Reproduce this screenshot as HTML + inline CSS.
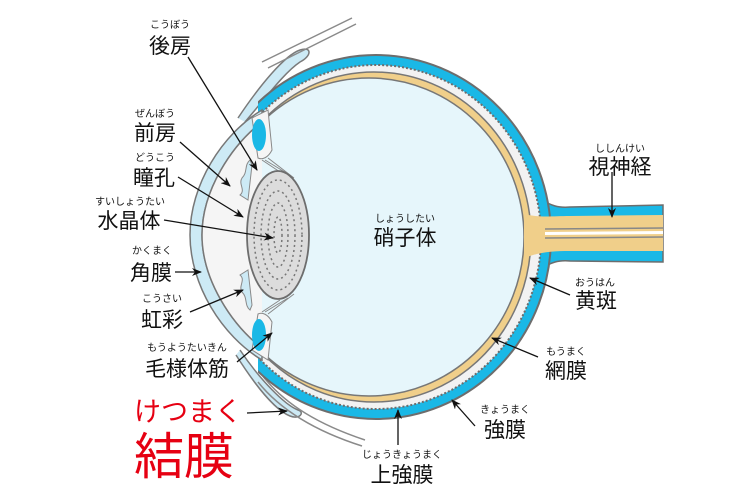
<!DOCTYPE html>
<html><head><meta charset="utf-8"><style>
html,body{margin:0;padding:0;background:#fff;}
svg{display:block;}
text{font-family:"Liberation Sans","Noto Sans CJK JP",sans-serif;fill:#111;}
.r{font-size:10px;}
.m{font-size:21px;}
</style></head><body>
<svg width="750" height="500" viewBox="0 0 750 500" xmlns="http://www.w3.org/2000/svg">
<defs>
<marker id="a" markerWidth="10" markerHeight="8" refX="9" refY="4" orient="auto" markerUnits="userSpaceOnUse">
<path d="M0,0 L10,4 L0,8 L3,4 Z" fill="#111"/></marker>
<clipPath id="cg"><rect x="258" y="0" width="500" height="500"/></clipPath>
</defs>

<!-- optic nerve -->
<path d="M538,198 C552,206 558,208 570,207 L663,205 L663,262 L570,261 C558,260 552,262 538,270 Z" fill="#1ab8e6" stroke="#6d6d6d" stroke-width="1.5"/>

<!-- eyelids -->
<path d="M238,118 C260,85 285,55 300,50 C312,46 312,56 300,62 C285,72 268,95 245,122" fill="#cdeaf5" stroke="#7a7a7a" stroke-width="1.5"/>
<path d="M262,62 L352,18 M268,68 L356,24" stroke="#8a8a8a" stroke-width="1.5"/>
<path d="M240,350 C260,380 285,405 298,410 C305,412 300,420 290,416 C275,410 255,385 236,355" fill="#cdeaf5" stroke="#7a7a7a" stroke-width="1.5"/>
<path d="M262,375 C285,405 320,425 365,440 M258,382 C282,412 318,432 362,446" stroke="#8a8a8a" stroke-width="1.5" fill="none"/>

<!-- globe -->
<g clip-path="url(#cg)">
<ellipse cx="376" cy="237" rx="175" ry="182" fill="#1ab8e6" stroke="#6d6d6d" stroke-width="2"/>
<ellipse cx="376" cy="237" rx="165" ry="172" fill="#f2f2f2" stroke="#6d6d6d" stroke-width="2" stroke-dasharray="2 2"/>
<ellipse cx="374" cy="237" rx="157" ry="165" fill="#f0cf8a" stroke="#777" stroke-width="1.5"/>
<ellipse cx="369" cy="237" rx="155" ry="159" fill="#e6f6fb" stroke="#777" stroke-width="1.5"/>
</g>
<path d="M524,214 C540,218 552,216 570,216 L663,215 L663,251 L570,251 C552,251 540,252 524,258 Z" fill="#f0cf8a"/>
<path d="M545,229 L663,228 M545,238 L663,237" stroke="#888" stroke-width="1.5"/>
<path d="M545,233.5 L663,232.5" stroke="#fff" stroke-width="3"/>

<!-- cornea -->
<path d="M262,110 C222,134 190,185 190,235 C190,285 222,336 262,360 L262,348 C232,325 202,280 202,235 C202,190 232,145 262,122 Z" fill="#cdeaf5" stroke="#777" stroke-width="1.5"/>
<path d="M262,122 C232,145 202,190 202,235 C202,280 232,325 262,348 L262,122 Z" fill="#f5f5f5"/>
<path d="M262,122 C232,145 202,190 202,235 C202,280 232,325 262,348" fill="none" stroke="#777" stroke-width="1.5"/>

<!-- ciliary -->
<path d="M252,118 L268,110 L272,150 C268,158 262,160 258,158 Z" fill="#f5f5f5" stroke="#888" stroke-width="1"/>
<ellipse cx="259" cy="135" rx="7" ry="16" fill="#1ab8e6"/>
<path d="M252,350 L268,360 L272,322 C268,314 262,312 258,314 Z" fill="#f5f5f5" stroke="#888" stroke-width="1"/>
<ellipse cx="259" cy="335" rx="7" ry="16" fill="#1ab8e6"/>
<path d="M262,160 L280,172 M265,160 L288,174 M268,158 L294,178 M262,312 L280,300 M265,312 L288,298 M268,314 L294,294" stroke="#888" stroke-width="1"/>
<!-- iris -->
<path d="M250,160 C244,165 248,172 242,178 C238,184 246,190 240,195 L248,200 L252,165 Z" fill="#cdeaf5" stroke="#888" stroke-width="1"/>
<path d="M250,310 C244,305 248,298 242,292 C238,286 246,280 240,275 L248,270 L252,305 Z" fill="#cdeaf5" stroke="#888" stroke-width="1"/>

<!-- lens -->
<ellipse cx="278" cy="235" rx="31" ry="64" fill="#dcdcdc" stroke="#6d6d6d" stroke-width="1.8"/>
<g fill="none" stroke="#777" stroke-width="1.5" stroke-dasharray="2 3">
<ellipse cx="278" cy="235" rx="24" ry="55"/>
<ellipse cx="278" cy="235" rx="17" ry="44"/>
<ellipse cx="278" cy="235" rx="10" ry="32"/>
<ellipse cx="278" cy="235" rx="4" ry="18"/>
</g>

<!-- leader lines -->
<g stroke="#111" stroke-width="1.3" fill="none" marker-end="url(#a)">
<line x1="188" y1="57" x2="257" y2="170"/>
<line x1="180" y1="142" x2="230" y2="186"/>
<line x1="178" y1="177" x2="243" y2="217"/>
<line x1="164" y1="220" x2="273" y2="238"/>
<line x1="175" y1="272" x2="201" y2="272"/>
<line x1="190" y1="312" x2="243" y2="290"/>
<line x1="237" y1="362" x2="272" y2="333"/>
<line x1="247" y1="413" x2="287" y2="411"/>
<line x1="612" y1="172" x2="612" y2="217"/>
<line x1="570" y1="295" x2="530" y2="278"/>
<line x1="538" y1="357" x2="492" y2="338"/>
<line x1="475" y1="426" x2="452" y2="400"/>
<line x1="398" y1="445" x2="398" y2="410"/>
</g>

<!-- labels -->
<g text-anchor="middle">
<text class="r" x="170" y="28">こうぼう</text><text class="m" x="170" y="53">後房</text>
<text class="r" x="155" y="117">ぜんぼう</text><text class="m" x="155" y="140">前房</text>
<text class="r" x="155" y="161">どうこう</text><text class="m" x="154" y="185">瞳孔</text>
<text class="r" x="130" y="205">すいしょうたい</text><text class="m" x="129" y="228">水晶体</text>
<text class="r" x="152" y="254">かくまく</text><text class="m" x="151" y="280">角膜</text>
<text class="r" x="162" y="302">こうさい</text><text class="m" x="162" y="327">虹彩</text>
<text class="r" x="187" y="351">もうようたいきん</text><text class="m" x="187" y="376">毛様体筋</text>
<text x="188" y="421" style="font-size:27px;fill:#e60012">けつまく</text>
<text x="184" y="474" style="font-size:50px;fill:#e60012">結膜</text>
<text class="r" x="405" y="222">しょうしたい</text><text class="m" x="405" y="245">硝子体</text>
<text class="r" x="620" y="152">ししんけい</text><text class="m" x="620" y="174">視神経</text>
<text class="r" x="595" y="286">おうはん</text><text class="m" x="596" y="308">黄斑</text>
<text class="r" x="566" y="355">もうまく</text><text class="m" x="566" y="378">網膜</text>
<text class="r" x="505" y="413">きょうまく</text><text class="m" x="505" y="437">強膜</text>
<text class="r" x="402" y="458">じょうきょうまく</text><text class="m" x="402" y="482">上強膜</text>
</g>
</svg>
</body></html>
